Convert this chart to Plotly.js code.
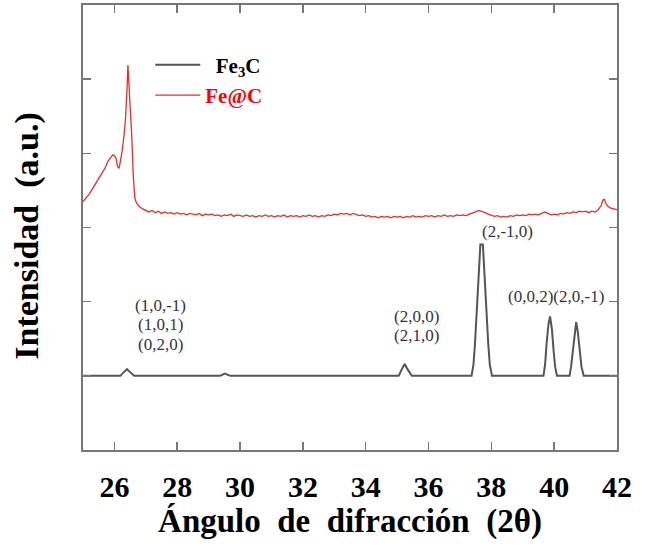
<!DOCTYPE html>
<html>
<head>
<meta charset="utf-8">
<script src="https://cdn.plot.ly/plotly-3.0.1.min.js"></script>
<style>html,body{margin:0;padding:0;background:#fff;}#chart{width:646px;height:549px;}</style>
</head>
<body>
<div id="chart"></div>
<script>
// Fe3C reference pattern (offset baseline at 1)
const fe3cX = [25, 26.19, 26.30, 26.40, 26.50, 26.63, 29.37, 29.51, 29.69, 35.05, 35.15, 35.24, 35.33, 35.47,
  37.37, 37.43, 37.48, 37.56, 37.61, 37.65, 37.73, 37.78, 37.83, 37.90, 37.95, 38.02,
  39.66, 39.71, 39.76, 39.82, 39.87, 39.93, 39.98, 40.03, 40.09, 40.30,
  40.49, 40.54, 40.60, 40.66, 40.70, 40.75, 40.81, 40.87, 40.94, 42];
const fe3cY = [1, 1, 1.05, 1.09, 1.05, 1, 1, 1.03, 1, 1, 1.09, 1.16, 1.09, 1,
  1, 1.15, 1.44, 2.07, 2.34, 2.77, 2.77, 2.34, 2.07, 1.44, 1.15, 1,
  1, 1.15, 1.44, 1.70, 1.80, 1.62, 1.35, 1.12, 1, 1,
  1, 1.13, 1.39, 1.62, 1.725, 1.60, 1.39, 1.12, 1, 1];

// Fe@C measured pattern
const fecX = [25.0,25.1,25.2,25.3,25.4,25.5,25.6,25.7,25.8,25.9,25.95,26.0,26.05,26.1,26.15,26.2,26.25,26.3,26.35,26.4,26.43,26.46,26.5,26.55,26.6,26.65,26.7,26.8,26.9,27.0,
  27.1,27.2,27.3,27.4,27.5,27.6,27.7,27.8,27.9,28.0,28.1,28.2,28.3,28.4,28.5,28.6,28.7,28.8,28.9,29.0,
  29.1,29.2,29.3,29.4,29.5,29.6,29.7,29.8,29.9,30.0,30.1,30.2,30.3,30.4,30.5,30.6,30.7,30.8,30.9,31.0,
  31.1,31.2,31.3,31.4,31.5,31.6,31.7,31.8,31.9,32.0,32.1,32.2,32.3,32.4,32.5,32.6,32.7,32.8,32.9,33.0,
  33.1,33.2,33.3,33.4,33.5,33.6,33.7,33.8,33.9,34.0,34.1,34.2,34.3,34.4,34.5,34.6,34.7,34.8,34.9,35.0,
  35.1,35.2,35.3,35.4,35.5,35.6,35.7,35.8,35.9,36.0,36.1,36.2,36.3,36.4,36.5,36.6,36.7,36.8,36.9,37.0,
  37.1,37.2,37.3,37.4,37.5,37.6,37.7,37.8,37.9,38.0,38.1,38.2,38.3,38.4,38.5,38.6,38.7,38.8,38.9,39.0,
  39.1,39.2,39.3,39.4,39.5,39.6,39.7,39.8,39.9,40.0,40.1,40.2,40.3,40.4,40.5,40.6,40.7,40.8,40.9,41.0,
  41.1,41.2,41.3,41.4,41.5,41.55,41.6,41.65,41.7,41.8,41.9,42.0];
const fecY = [3.35,3.40,3.45,3.52,3.59,3.66,3.73,3.80,3.90,3.96,3.98,3.97,3.94,3.82,3.80,3.92,4.04,4.22,4.45,4.85,5.19,4.95,4.70,4.25,3.70,3.40,3.33,3.28,3.25,3.23,
  3.21,3.23,3.20,3.22,3.19,3.21,3.19,3.20,3.18,3.20,3.18,3.19,3.17,3.19,3.18,3.17,3.19,3.16,3.18,3.17,
  3.18,3.16,3.17,3.15,3.17,3.16,3.18,3.15,3.17,3.16,3.15,3.17,3.15,3.16,3.14,3.16,3.15,3.17,3.15,3.16,
  3.14,3.16,3.15,3.17,3.14,3.16,3.15,3.16,3.14,3.16,3.15,3.17,3.15,3.16,3.14,3.16,3.15,3.17,3.16,3.18,
  3.17,3.19,3.18,3.19,3.17,3.19,3.18,3.16,3.17,3.15,3.16,3.14,3.15,3.13,3.15,3.14,3.15,3.13,3.15,3.14,
  3.15,3.13,3.15,3.14,3.16,3.14,3.15,3.14,3.16,3.15,3.16,3.14,3.16,3.15,3.17,3.15,3.16,3.15,3.17,3.16,
  3.17,3.16,3.18,3.19,3.21,3.23,3.22,3.20,3.18,3.17,3.15,3.16,3.14,3.15,3.14,3.16,3.15,3.17,3.16,3.17,
  3.16,3.18,3.17,3.18,3.17,3.19,3.21,3.19,3.17,3.18,3.17,3.19,3.18,3.20,3.19,3.21,3.20,3.22,3.21,3.22,
  3.20,3.22,3.21,3.24,3.30,3.37,3.38,3.32,3.29,3.26,3.25,3.24];

// Peak labels (Miller indices), one entry per text line
const labelText = ['(1,0,-1)', '(1,0,1)', '(0,2,0)', '(2,0,0)', '(2,1,0)', '(2,-1,0)', '(0,0,2)(2,0,-1)'];
const labelX = [27.46, 27.46, 27.46, 35.61, 35.61, 38.52, 40.06];
const labelY = [1.95, 1.69, 1.42, 1.80, 1.54, 2.94, 2.066];

const xTicks = [26, 28, 30, 32, 34, 36, 38, 40, 42];
const seriesNames = ['&nbsp;&nbsp;Fe<sub>3</sub>C', '<span style="color:#ff0000">Fe@C</span>'];

const serif = 'Liberation Serif, Times New Roman, serif';

const traces = [
  {x: fe3cX, y: fe3cY, mode: 'lines', name: seriesNames[0], line: {color: '#555555', width: 2}},
  {x: fecX, y: fecY, mode: 'lines', name: seriesNames[1], line: {color: '#ee2a2a', width: 1.3}}
];

const annotations = labelText.map((t, i) => ({
  x: labelX[i], y: labelY[i], xref: 'x', yref: 'y', text: t, showarrow: false,
  font: {family: serif, size: 17, color: '#333340'}
}));

const layout = {
  width: 646, height: 549,
  margin: {l: 83, r: 29, t: 5, b: 99},
  paper_bgcolor: '#ffffff', plot_bgcolor: '#ffffff',
  font: {family: serif, color: '#000'},
  xaxis: {
    range: [25, 42], tickvals: xTicks, ticktext: xTicks.map(String),
    ticks: 'inside', ticklen: 8, tickwidth: 1.5, tickcolor: '#777',
    showline: true, linecolor: '#777', linewidth: 2, mirror: 'ticks',
    showgrid: false, zeroline: false, ticklabelstandoff: 9,
    tickfont: {family: serif, size: 30, color: '#000', weight: 'bold'},
    title: {text: '<b>Ángulo  de  difracción  (2θ)</b>', font: {family: serif, size: 33, color: '#000'}, standoff: 4}
  },
  yaxis: {
    range: [0, 6], dtick: 1, tick0: 0, showticklabels: false,
    ticks: 'inside', ticklen: 8, tickwidth: 1.5, tickcolor: '#777',
    showline: true, linecolor: '#777', linewidth: 2, mirror: 'ticks',
    showgrid: false, zeroline: false,
    title: {text: '<b>Intensidad  (a.u.)</b>&nbsp;&nbsp;', font: {family: serif, size: 34, color: '#000'}, standoff: 32}
  },
  showlegend: true,
  legend: {
    x: 0.126, y: 0.911, xanchor: 'left', yanchor: 'top', itemwidth: 45,
    bgcolor: 'rgba(0,0,0,0)', borderwidth: 0,
    font: {family: serif, size: 21, color: '#000', weight: 'bold'}
  },
  annotations: annotations
};

Plotly.newPlot('chart', traces, layout, {staticPlot: true, displayModeBar: false});
</script>
</body>
</html>
